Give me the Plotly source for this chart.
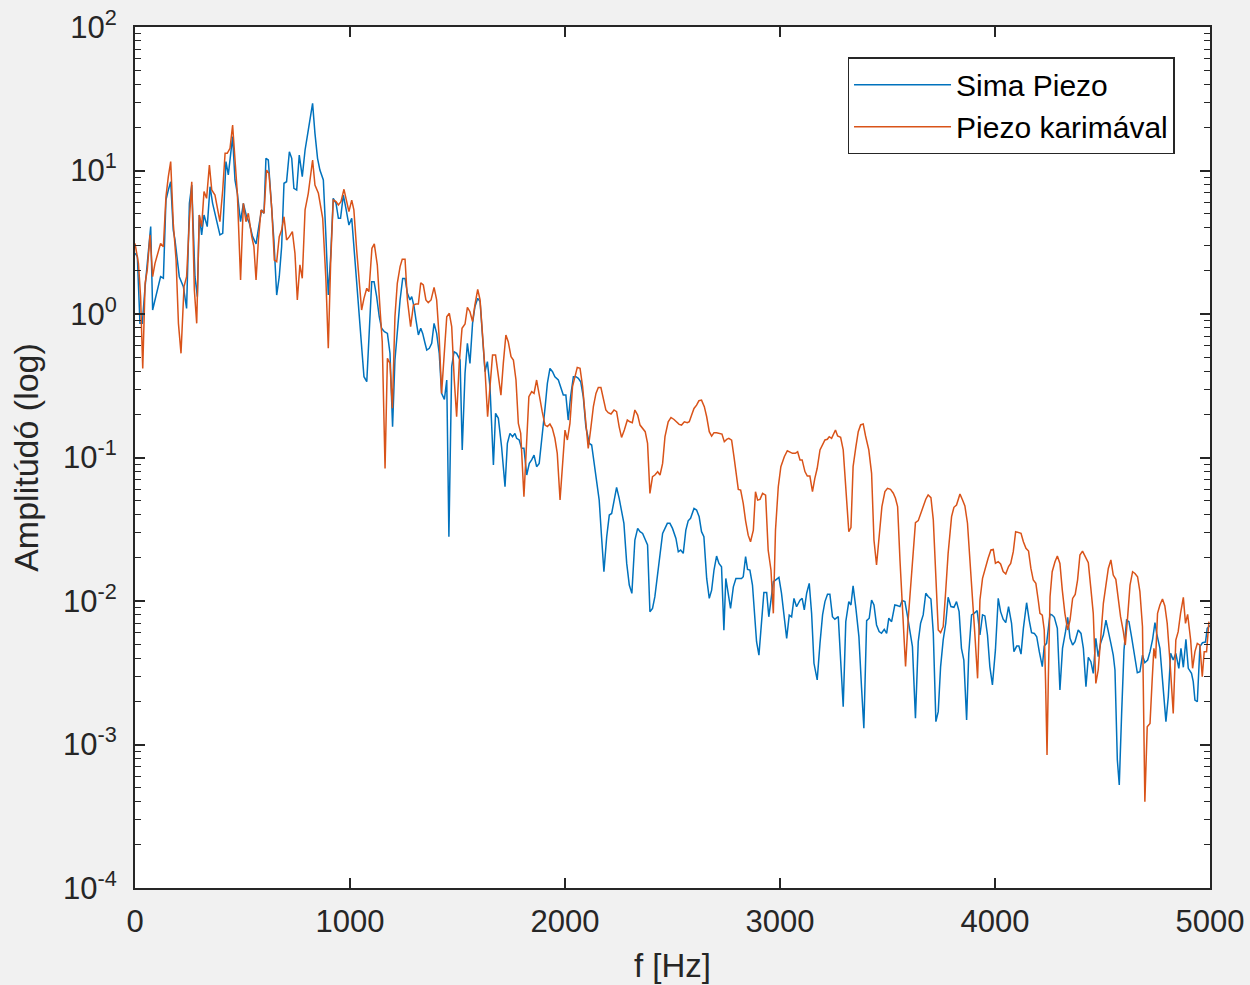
import plotly.graph_objects as go

# ---------------- data ----------------
series_names = ["Sima Piezo", "Piezo karimával"]

# frequency [Hz] and log10(amplitude) of the "Sima Piezo" spectrum
sima_freq = [
    0, 11, 23, 34, 47, 62, 73, 82, 101, 119, 132, 144, 155, 166, 178, 186, 206, 225, 240, 253,
    264, 279, 290, 299, 310, 321, 336, 349, 361, 380, 395, 408, 423, 434, 445, 454, 465, 476, 491, 504,
    519, 532, 547, 563, 578, 589, 600, 609, 620, 636, 646, 659, 671, 682, 693, 705, 718, 729, 739, 752,
    764, 778, 791, 806, 826, 837, 849, 860, 876, 888, 899, 910, 922, 935, 946, 956, 969, 981, 995, 1008,
    1031, 1047, 1065, 1078, 1090, 1101, 1112, 1124, 1136, 1147, 1160, 1174, 1186, 1198, 1209, 1220, 1233, 1245, 1256, 1267,
    1279, 1287, 1298, 1307, 1318, 1329, 1338, 1349, 1357, 1369, 1380, 1391, 1403, 1415, 1426, 1439, 1450, 1460, 1473, 1484,
    1496, 1512, 1522, 1535, 1546, 1558, 1570, 1581, 1594, 1605, 1615, 1628, 1639, 1651, 1667, 1677, 1690, 1705, 1721, 1732,
    1744, 1756, 1767, 1775, 1787, 1798, 1809, 1822, 1834, 1845, 1856, 1868, 1880, 1894, 1907, 1918, 1930, 1942, 1953, 1969,
    1980, 1992, 2004, 2015, 2026, 2039, 2051, 2062, 2073, 2085, 2097, 2113, 2124, 2135, 2147, 2159, 2170, 2181, 2194, 2206,
    2217, 2228, 2240, 2252, 2263, 2274, 2287, 2299, 2311, 2325, 2338, 2349, 2361, 2372, 2384, 2395, 2407, 2418, 2429, 2442,
    2454, 2465, 2476, 2488, 2500, 2516, 2527, 2538, 2550, 2562, 2573, 2584, 2600, 2612, 2624, 2635, 2646, 2659, 2671, 2682,
    2693, 2705, 2716, 2728, 2739, 2748, 2759, 2770, 2783, 2795, 2806, 2821, 2829, 2840, 2849, 2860, 2872, 2883, 2891, 2902,
    2914, 2925, 2938, 2948, 2958, 2969, 2979, 2995, 3007, 3020, 3031, 3043, 3054, 3065, 3077, 3093, 3103, 3113, 3124, 3136,
    3147, 3158, 3173, 3186, 3198, 3209, 3221, 3232, 3244, 3255, 3271, 3282, 3294, 3306, 3320, 3330, 3340, 3353, 3367, 3379,
    3390, 3403, 3415, 3426, 3437, 3449, 3461, 3472, 3485, 3496, 3506, 3519, 3534, 3545, 3558, 3568, 3581, 3592, 3604, 3616,
    3630, 3643, 3654, 3666, 3678, 3689, 3702, 3713, 3725, 3736, 3747, 3759, 3771, 3782, 3795, 3809, 3821, 3833, 3844, 3855,
    3868, 3878, 3891, 3903, 3917, 3930, 3942, 3953, 3965, 3976, 3988, 4002, 4015, 4026, 4038, 4050, 4063, 4069, 4077, 4088,
    4101, 4111, 4121, 4132, 4147, 4159, 4170, 4183, 4194, 4206, 4220, 4229, 4240, 4256, 4266, 4276, 4290, 4302, 4314, 4328,
    4338, 4349, 4361, 4372, 4387, 4400, 4411, 4423, 4434, 4446, 4457, 4469, 4480, 4491, 4504, 4516, 4527, 4539, 4550, 4558,
    4569, 4578, 4589, 4600, 4612, 4623, 4635, 4648, 4662, 4674, 4686, 4697, 4710, 4721, 4733, 4744, 4752, 4767, 4783, 4795,
    4806, 4817, 4829, 4841, 4855, 4865, 4876, 4888, 4899, 4914, 4922, 4930, 4941, 4953, 4965, 4979, 4987, 5000,
]
sima_log10 = [
    0.423, 0.400, -0.065, -0.065, 0.191, 0.469, 0.609, 0.028, 0.144, 0.260, 0.249, 0.794, 0.864, 0.922, 0.585, 0.516, 0.260, 0.191, 0.039, 0.771,
    0.899, 0.260, 0.121, 0.690, 0.551, 0.690, 0.609, 0.887, 0.771, 0.655, 0.551, 0.562, 1.062, 0.969, 1.120, 1.236, 0.934, 0.841, 0.643, 0.771,
    0.678, 0.632, 0.539, 0.488, 0.632, 0.725, 0.702, 1.085, 1.073, 0.702, 0.516, 0.132, 0.260, 0.469, 0.911, 0.922, 1.131, 1.085, 0.876, 0.864,
    1.108, 0.957, 1.143, 1.282, 1.468, 1.259, 1.085, 1.003, 0.934, 0.539, 0.132, 0.400, 0.806, 0.771, 0.667, 0.667, 0.829, 0.736, 0.620, 0.667,
    0.214, -0.042, -0.437, -0.472, -0.088, 0.225, 0.225, 0.121, -0.019, -0.100, -0.123, -0.135, -0.274, -0.785, -0.321, -0.112, 0.098, 0.248, 0.248, 0.144,
    0.098, 0.121, 0.051, -0.042, -0.146, -0.100, -0.135, -0.204, -0.251, -0.239, -0.204, -0.065, -0.135, -0.274, -0.553, -0.595, -0.460, -1.552, -0.367, -0.263,
    -0.274, -0.321, -0.948, -0.413, -0.204, -0.344, -0.065, 0.051, 0.109, 0.086, -0.135, -0.402, -0.332, -0.506, -1.052, -0.692, -0.727, -0.925, -1.203, -0.901,
    -0.832, -0.855, -0.832, -0.866, -0.878, -0.936, -0.936, -1.122, -1.041, -1.017, -0.983, -1.064, -1.041, -0.855, -0.657, -0.483, -0.379, -0.402, -0.437, -0.460,
    -0.506, -0.565, -0.565, -0.739, -0.576, -0.437, -0.437, -0.448, -0.472, -0.577, -0.786, -0.902, -0.913, -1.041, -1.181, -1.297, -1.552, -1.796, -1.552, -1.401,
    -1.390, -1.297, -1.208, -1.285, -1.366, -1.459, -1.738, -1.889, -1.947, -1.575, -1.494, -1.517, -1.529, -1.564, -1.610, -2.075, -2.052, -1.970, -1.831, -1.668,
    -1.529, -1.494, -1.459, -1.459, -1.494, -1.564, -1.657, -1.645, -1.668, -1.506, -1.441, -1.424, -1.355, -1.366, -1.413, -1.517, -1.552, -1.843, -1.982, -1.924,
    -1.784, -1.687, -1.738, -1.761, -2.203, -1.843, -1.947, -2.052, -1.901, -1.843, -1.843, -1.843, -1.831, -1.691, -1.780, -1.784, -1.889, -2.156, -2.284, -2.377,
    -2.178, -1.941, -1.941, -2.110, -1.994, -1.866, -1.854, -1.835, -1.947, -2.110, -2.261, -2.098, -2.110, -1.982, -2.040, -1.994, -1.981, -2.062, -1.946, -1.877,
    -2.086, -2.434, -2.550, -2.295, -2.097, -2.004, -1.953, -1.953, -2.109, -2.127, -2.109, -2.411, -2.736, -2.144, -2.004, -2.028, -1.895, -2.051, -2.248, -2.597,
    -2.887, -2.137, -2.120, -1.993, -2.028, -2.167, -2.213, -2.225, -2.197, -2.225, -2.120, -2.144, -2.028, -2.032, -2.039, -1.997, -2.004, -2.097, -2.225, -2.318,
    -2.817, -2.283, -2.155, -2.097, -1.946, -1.969, -1.986, -2.225, -2.841, -2.771, -2.457, -2.271, -2.155, -1.974, -2.039, -2.044, -2.004, -2.074, -2.330, -2.411,
    -2.829, -2.364, -2.097, -2.086, -2.067, -2.237, -2.097, -2.104, -2.237, -2.457, -2.585, -2.341, -1.981, -2.074, -2.127, -2.151, -2.039, -2.086, -2.156, -2.353,
    -2.314, -2.314, -2.370, -2.191, -2.012, -2.133, -2.221, -2.226, -2.249, -2.353, -2.458, -2.314, -2.295, -2.091, -2.098, -2.114, -2.191, -2.620, -2.330, -2.214,
    -2.114, -2.260, -2.307, -2.284, -2.202, -2.226, -2.330, -2.597, -2.393, -2.423, -2.504, -2.260, -2.388, -2.295, -2.237, -2.133, -2.202, -2.295, -2.377, -2.481,
    -3.108, -3.282, -2.783, -2.342, -2.133, -2.144, -2.249, -2.365, -2.500, -2.493, -2.377, -2.430, -2.411, -2.353, -2.267, -2.151, -2.226, -2.330, -2.597, -2.841,
    -2.667, -2.365, -2.411, -2.365, -2.469, -2.330, -2.462, -2.267, -2.469, -2.504, -2.562, -2.690, -2.702, -2.318, -2.291, -2.286, -2.191, -2.170,
]

# frequency [Hz] and log10(amplitude) of the "Piezo karimával" spectrum
kari_freq = [
    0, 16, 26, 36, 47, 57, 70, 82, 93, 109, 119, 132, 144, 155, 166, 178, 191, 202, 214, 228,
    240, 253, 264, 276, 287, 299, 310, 321, 333, 346, 357, 372, 383, 395, 408, 419, 429, 442, 454, 465,
    476, 491, 504, 516, 527, 543, 553, 563, 574, 586, 600, 612, 623, 636, 648, 659, 671, 682, 693, 705,
    718, 732, 744, 755, 767, 778, 791, 806, 826, 837, 853, 873, 888, 899, 910, 922, 935, 946, 958, 972,
    984, 995, 1008, 1018, 1031, 1043, 1054, 1065, 1078, 1088, 1102, 1113, 1127, 1140, 1150, 1163, 1174, 1186, 1197, 1209,
    1220, 1233, 1243, 1256, 1267, 1282, 1295, 1307, 1318, 1329, 1341, 1353, 1364, 1377, 1391, 1403, 1415, 1426, 1439, 1450,
    1462, 1473, 1485, 1496, 1508, 1521, 1535, 1546, 1558, 1570, 1581, 1594, 1605, 1615, 1628, 1640, 1651, 1663, 1677, 1690,
    1702, 1713, 1725, 1736, 1749, 1760, 1772, 1783, 1794, 1809, 1822, 1832, 1845, 1856, 1868, 1880, 1894, 1907, 1918, 1930,
    1941, 1953, 1964, 1977, 1987, 2000, 2011, 2023, 2035, 2046, 2057, 2070, 2082, 2093, 2108, 2119, 2132, 2144, 2155, 2167,
    2178, 2190, 2201, 2214, 2228, 2240, 2252, 2263, 2276, 2290, 2302, 2313, 2325, 2338, 2349, 2361, 2373, 2384, 2395, 2407,
    2418, 2431, 2442, 2454, 2465, 2480, 2493, 2507, 2519, 2531, 2542, 2555, 2569, 2578, 2589, 2600, 2612, 2623, 2635, 2648,
    2659, 2671, 2682, 2693, 2705, 2717, 2730, 2741, 2752, 2762, 2775, 2786, 2798, 2806, 2817, 2829, 2840, 2852, 2863, 2876,
    2886, 2896, 2907, 2919, 2933, 2945, 2958, 2969, 2979, 2992, 3004, 3020, 3034, 3046, 3058, 3071, 3082, 3093, 3103, 3116,
    3127, 3139, 3151, 3162, 3173, 3186, 3198, 3209, 3220, 3229, 3240, 3248, 3258, 3268, 3282, 3294, 3306, 3320, 3330, 3340,
    3353, 3364, 3375, 3387, 3398, 3413, 3426, 3437, 3449, 3461, 3474, 3488, 3500, 3514, 3527, 3537, 3547, 3558, 3573, 3584,
    3596, 3607, 3620, 3630, 3643, 3654, 3666, 3678, 3689, 3702, 3713, 3723, 3736, 3747, 3759, 3770, 3782, 3798, 3809, 3821,
    3837, 3849, 3860, 3872, 3883, 3895, 3906, 3919, 3930, 3942, 3956, 3968, 3981, 3992, 4002, 4015, 4026, 4038, 4050, 4063,
    4073, 4085, 4096, 4108, 4121, 4132, 4144, 4156, 4167, 4178, 4190, 4201, 4209, 4220, 4229, 4235, 4242, 4248, 4256, 4266,
    4279, 4290, 4302, 4313, 4325, 4338, 4349, 4361, 4373, 4384, 4395, 4407, 4418, 4434, 4445, 4457, 4469, 4480, 4491, 4504,
    4516, 4527, 4539, 4550, 4562, 4573, 4584, 4597, 4606, 4617, 4628, 4640, 4651, 4663, 4674, 4686, 4697, 4708, 4721, 4731,
    4739, 4747, 4756, 4767, 4779, 4790, 4801, 4814, 4829, 4841, 4852, 4863, 4876, 4886, 4896, 4910, 4919, 4930, 4941, 4953,
    4964, 4973, 4984, 4995,
]
kari_log10 = [
    0.492, 0.353, 0.121, -0.379, 0.214, 0.307, 0.551, 0.260, 0.353, 0.446, 0.492, 0.469, 0.818, 0.957, 1.062, 0.632, 0.376, -0.065, -0.274, 0.191,
    0.260, 0.655, 0.922, 0.167, -0.065, 0.690, 0.609, 0.853, 0.806, 1.038, 0.864, 0.829, 0.748, 0.643, 0.864, 1.120, 1.120, 1.155, 1.317, 1.096,
    0.841, 0.237, 0.771, 0.643, 0.702, 0.539, 0.469, 0.237, 0.516, 0.725, 0.702, 1.003, 0.980, 0.736, 0.376, 0.365, 0.539, 0.585, 0.678, 0.516,
    0.539, 0.574, 0.423, 0.098, 0.342, 0.249, 0.725, 0.841, 1.073, 0.899, 0.841, 0.667, 0.237, -0.239, 0.353, 0.794, 0.783, 0.760, 0.783, 0.869,
    0.783, 0.713, 0.794, 0.725, 0.446, 0.190, 0.028, 0.109, 0.179, 0.156, 0.458, 0.488, 0.341, 0.028, -0.193, -1.076, -0.309, -0.344, -0.657, -0.019,
    0.214, 0.330, 0.381, 0.381, 0.098, -0.088, 0.063, 0.070, 0.070, 0.218, 0.202, 0.098, 0.079, 0.098, 0.186, 0.098, -0.170, -0.553, -0.274, -0.019,
    0.005, -0.088, -0.460, -0.716, -0.344, -0.100, -0.070, 0.046, 0.016, -0.053, 0.063, 0.172, 0.098, -0.112, -0.390, -0.716, -0.506, -0.286, -0.286, -0.413,
    -0.565, -0.344, -0.146, -0.193, -0.297, -0.321, -0.460, -0.762, -0.832, -1.273, -0.809, -0.576, -0.541, -0.553, -0.460, -0.576, -0.681, -0.774, -0.785, -0.767,
    -0.797, -0.866, -0.971, -1.296, -1.052, -0.809, -0.878, -0.762, -0.506, -0.437, -0.372, -0.379, -0.507, -0.693, -0.937, -0.809, -0.646, -0.553, -0.512, -0.512,
    -0.600, -0.669, -0.688, -0.697, -0.669, -0.681, -0.786, -0.860, -0.809, -0.739, -0.751, -0.758, -0.669, -0.704, -0.774, -0.797, -0.820, -0.902, -1.250, -1.134,
    -1.122, -1.099, -1.122, -1.041, -0.855, -0.751, -0.721, -0.735, -0.751, -0.769, -0.774, -0.751, -0.758, -0.751, -0.704, -0.658, -0.635, -0.604, -0.600, -0.646,
    -0.716, -0.820, -0.851, -0.827, -0.827, -0.832, -0.837, -0.890, -0.874, -0.867, -0.879, -0.995, -1.134, -1.222, -1.227, -1.320, -1.441, -1.541, -1.587, -1.506,
    -1.239, -1.297, -1.292, -1.250, -1.262, -1.645, -1.784, -2.086, -1.506, -1.204, -1.064, -0.995, -0.953, -0.960, -0.971, -0.971, -0.960, -1.018, -1.017, -1.098,
    -1.129, -1.129, -1.238, -1.145, -1.075, -0.947, -0.913, -0.878, -0.873, -0.855, -0.866, -0.843, -0.808, -0.850, -0.859, -0.947, -1.226, -1.517, -1.489, -1.064,
    -0.924, -0.820, -0.773, -0.766, -0.850, -0.947, -1.110, -1.575, -1.749, -1.528, -1.342, -1.238, -1.215, -1.222, -1.249, -1.284, -1.342, -1.714, -2.132, -2.457,
    -2.132, -1.900, -1.598, -1.454, -1.440, -1.389, -1.342, -1.291, -1.261, -1.280, -1.435, -1.807, -2.202, -2.220, -2.179, -1.946, -1.668, -1.412, -1.347, -1.331,
    -1.254, -1.296, -1.338, -1.458, -1.691, -1.993, -2.225, -2.539, -1.993, -1.842, -1.760, -1.702, -1.644, -1.640, -1.737, -1.726, -1.742, -1.795, -1.812, -1.760,
    -1.738, -1.656, -1.517, -1.524, -1.529, -1.587, -1.633, -1.652, -1.773, -1.854, -1.877, -1.993, -2.086, -2.098, -2.202, -2.551, -3.073, -2.551, -1.970, -1.796,
    -1.726, -1.687, -1.738, -1.924, -2.086, -2.202, -2.133, -1.982, -1.954, -1.854, -1.680, -1.652, -1.687, -1.733, -1.900, -2.086, -2.574, -2.481, -2.272, -2.016,
    -1.889, -1.773, -1.714, -1.819, -1.849, -1.982, -2.109, -2.214, -2.307, -2.109, -1.889, -1.796, -1.808, -1.831, -1.935, -2.179, -3.399, -2.876, -2.853, -2.551,
    -2.330, -2.400, -2.086, -2.028, -1.986, -2.035, -2.156, -2.423, -2.783, -2.272, -2.214, -2.086, -1.975, -2.156, -2.093, -2.272, -2.469, -2.353, -2.295, -2.307,
    -2.528, -2.353, -2.353, -2.144,
]

x_tick_values = [0, 1000, 2000, 3000, 4000, 5000]
y_tick_exponents = [-4, -3, -2, -1, 0, 1, 2]
y_minor_multipliers = [2, 3, 4, 5, 6, 7, 8, 9]
x_title = "f [Hz]"
y_title = "Amplitúdó (log)"

colors = ["#0072BD", "#D95319"]

# amplitudes from the read log10 values
sima_amp = [10 ** v for v in sima_log10]
kari_amp = [10 ** v for v in kari_log10]

font_family = "Liberation Sans, Arial, sans-serif"
axis_color = "#262626"

fig = go.Figure()
fig.add_trace(go.Scatter(x=sima_freq, y=sima_amp, mode="lines", name=series_names[0],
                         line=dict(color=colors[0], width=1.5)))
fig.add_trace(go.Scatter(x=kari_freq, y=kari_amp, mode="lines", name=series_names[1],
                         line=dict(color=colors[1], width=1.5)))

fig.update_layout(
    width=1250, height=985,
    margin=dict(l=135, r=40, t=27, b=97),
    paper_bgcolor="#f1f1f1",
    plot_bgcolor="white",
    font=dict(family=font_family, size=31, color="#262626"),
    showlegend=True,
    legend=dict(
        x=0.967, xanchor="right", y=0.965, yanchor="top",
        bgcolor="white", bordercolor=axis_color, borderwidth=1.5,
        font=dict(size=30, color="black"),
        itemwidth=97, tracegroupgap=0,
    ),
)

fig.update_xaxes(
    range=[0, 5000], tickmode="array", tickvals=x_tick_values,
    ticktext=[str(v) for v in x_tick_values],
    ticks="inside", ticklen=10, tickwidth=1.5, tickcolor=axis_color,
    showline=True, linecolor=axis_color, linewidth=1.8, mirror="allticks",
    showgrid=False, zeroline=False, automargin=False,
    ticklabelstandoff=5,
    title=dict(text=x_title, font=dict(size=33), standoff=16),
)
fig.update_yaxes(
    type="log", range=[-4, 2], tickmode="array",
    tickvals=[10 ** e for e in y_tick_exponents],
    ticktext=["10<sup>%s</sup>" % e for e in y_tick_exponents],
    ticks="inside", ticklen=10, tickwidth=1.5, tickcolor=axis_color,
    minor=dict(ticks="inside", ticklen=6, tickwidth=1.2, tickcolor=axis_color, showgrid=False,
               tickmode="array",
               tickvals=[m * 10 ** e for e in y_tick_exponents[:-1] for m in y_minor_multipliers]),
    showline=True, linecolor=axis_color, linewidth=1.8, mirror="allticks",
    showgrid=False, zeroline=False, automargin=False,
    ticklabelstandoff=10,
    title=dict(text=y_title, font=dict(size=34), standoff=14),
)

fig.write_html("out.html")
